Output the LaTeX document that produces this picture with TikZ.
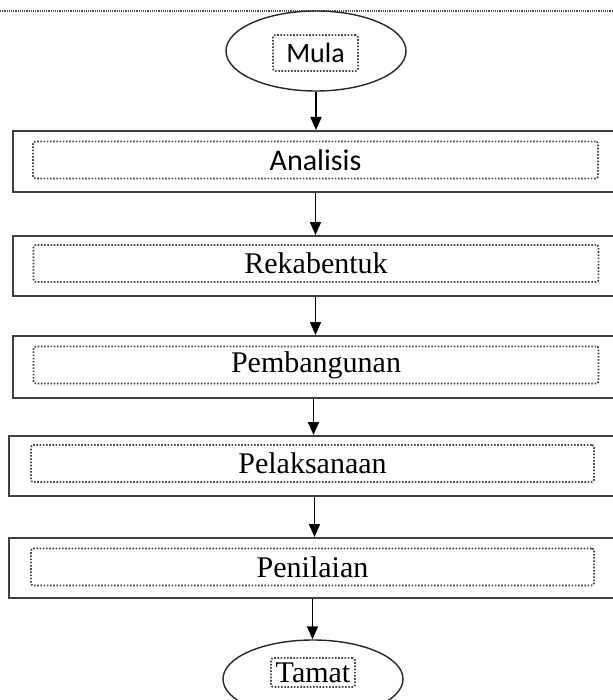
\documentclass[tikz,border=0pt]{standalone}
\usepackage{fontspec}
\setmainfont{Liberation Serif}
\newfontfamily\calibri{Carlito}
\usetikzlibrary{arrows.meta,positioning,shapes.geometric}
\definecolor{frameGray}{RGB}{64,64,64}
\definecolor{dotGray} {RGB}{70,70,70}
\begin{document}
\begin{tikzpicture}[x=0.5pt,y=-0.5pt,
        stepbox/.style={draw=frameGray,line width=1pt,
                        minimum width=302.5pt,minimum height=30.5pt,
                        inner sep=0pt},
        txtbox/.style={draw=dotGray,line width=0.9pt,
                       dash pattern=on 0.8pt off 0.8pt,
                       rounded corners=1.2pt,
                       minimum width=282.5pt,minimum height=18.5pt,
                       inner sep=0pt,
                       font=\fontsize{15}{18}\selectfont},
        term/.style={ellipse,draw=black!85,line width=0.7pt,
                     minimum width=90pt,minimum height=40pt,
                     inner sep=0pt},
        arr/.style={-{Triangle[length=6.5pt,width=5.5pt]},
                    line width=0.85pt,black}]
  \clip (0,0) rectangle (613,700);
  % dotted page edge at the top
  \draw[black!70,line width=0.6pt,dash pattern=on 0.6pt off 0.5pt]
    (0,11) -- (613,11);
  % start / end
  \node[term] (mula) at (316,51) {};
  \node[txtbox,minimum width=42.5pt,minimum height=18pt,
        font=\calibri\fontsize{14}{17}\selectfont] (mula-t) at (315.5,53) {Mula};
  \node[term,minimum height=39pt] (tamat) at (313,679) {};
  \node[txtbox,minimum width=42pt,minimum height=14.5pt] (tamat-t)
    at (313,672.5) {Tamat};
  % steps
  \node[stepbox] (analisis) at (315.5,161.5) {};
  \node[txtbox,font=\calibri\fontsize{15}{18}\selectfont] (analisis-t)
    at (315.5,160) {Analisis};
  \node[stepbox,minimum height=30pt] (rekabentuk) at (315.5,266) {};
  \node[txtbox] (rekabentuk-t) at (316,263.5) {Rekabentuk};
  \node[stepbox,minimum height=31pt] (pembangunan) at (315.5,367) {};
  \node[txtbox] (pembangunan-t) at (316,365) {Pembangunan};
  \node[stepbox,minimum width=303.5pt,minimum height=30pt]
    (pelaksanaan) at (312.5,466) {};
  \node[txtbox,minimum width=281.5pt] (pelaksanaan-t)
    at (312.5,463.5) {Pelaksanaan};
  \node[stepbox,minimum width=303.5pt,minimum height=30pt]
    (penilaian) at (312.5,568) {};
  \node[txtbox,minimum width=281.5pt] (penilaian-t)
    at (312.5,567) {Penilaian};
  % flow
  \draw[arr] (mula) -- (mula |- analisis.north);
  \draw[arr] (analisis) -- (analisis |- rekabentuk.north);
  \draw[arr] (rekabentuk) -- (rekabentuk |- pembangunan.north);
  \draw[arr] ([xshift=-1pt]pembangunan.south) -- ([xshift=-1pt]pembangunan.south |- pelaksanaan.north);
  \draw[arr] ([xshift=1pt]pelaksanaan.south) -- ([xshift=1pt]pelaksanaan.south |- penilaian.north);
  \draw[arr] (penilaian) -- (penilaian |- tamat.north);
\end{tikzpicture}
\end{document}
